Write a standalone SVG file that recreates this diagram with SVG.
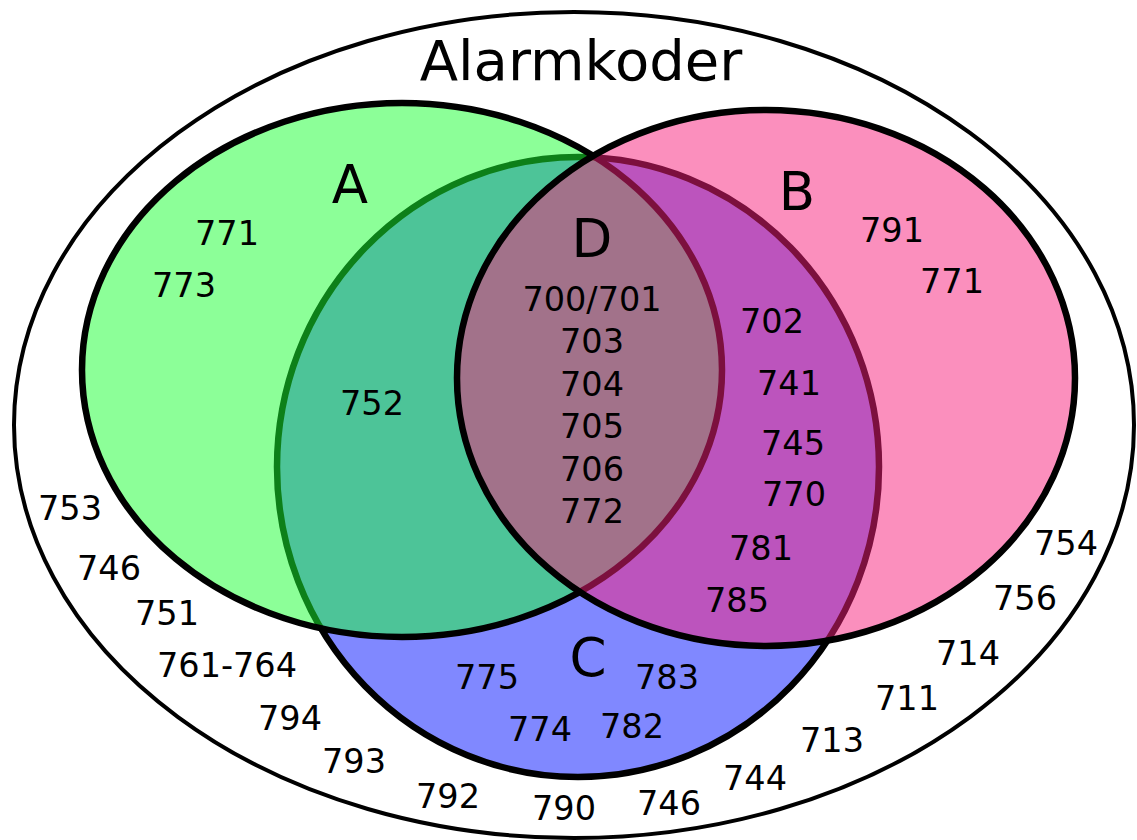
<svg xmlns="http://www.w3.org/2000/svg" width="1137" height="840" viewBox="0 0 1137 840">
  <style>
    .set { stroke: #000; stroke-width: 6.5; }
    .num { font-family: "DejaVu Sans", Verdana, sans-serif; font-size: 33.5px; fill: #000; text-anchor: middle; }
    .letter { font-family: "DejaVu Sans", Verdana, sans-serif; font-size: 53px; fill: #000; text-anchor: middle; }
    .title { font-family: "DejaVu Sans", Verdana, sans-serif; font-size: 56px; fill: #000; text-anchor: middle; }
  </style>
  <rect width="1137" height="840" fill="#fff"/>

  <!-- universe of alarm codes -->
  <g id="universe">
    <ellipse cx="574" cy="425" rx="560" ry="413" fill="#fff" stroke="#000" stroke-width="4"/>
  </g>

  <!-- set C is painted first; A and B are translucent on top of it -->
  <g id="set-C">
    <ellipse class="set" cx="578" cy="467" rx="301" ry="310" fill="#8088ff"/>
  </g>
  <g id="set-A">
    <ellipse class="set" cx="402" cy="370" rx="320" ry="267" fill="#19ff31" fill-opacity="0.5"/>
  </g>
  <g id="set-B">
    <ellipse class="set" cx="766" cy="378" rx="309" ry="268" fill="#f81f7c" fill-opacity="0.5"/>
  </g>

  <g id="title">
    <text class="title" x="581" y="80">Alarmkoder</text>
  </g>

  <g id="labels-A">
    <text class="letter" x="350" y="203">A</text>
    <text class="num" x="227" y="245">771</text>
    <text class="num" x="184" y="297">773</text>
    <text class="num" x="372" y="415">752</text>
  </g>

  <g id="labels-D">
    <text class="letter" x="592" y="257">D</text>
    <text class="num" x="592" y="311">700/701</text>
    <text class="num" x="592" y="353">703</text>
    <text class="num" x="592" y="396">704</text>
    <text class="num" x="592" y="438">705</text>
    <text class="num" x="592" y="481">706</text>
    <text class="num" x="592" y="523">772</text>
  </g>

  <g id="labels-B">
    <text class="letter" x="797" y="210">B</text>
    <text class="num" x="892" y="242">791</text>
    <text class="num" x="952" y="293">771</text>
    <text class="num" x="772" y="333">702</text>
    <text class="num" x="789" y="395">741</text>
    <text class="num" x="793" y="455">745</text>
    <text class="num" x="794" y="506">770</text>
    <text class="num" x="761" y="560">781</text>
    <text class="num" x="737" y="612">785</text>
  </g>

  <g id="labels-C">
    <text class="letter" x="588" y="676">C</text>
    <text class="num" x="487" y="689">775</text>
    <text class="num" x="667" y="689">783</text>
    <text class="num" x="540" y="741">774</text>
    <text class="num" x="632" y="738">782</text>
  </g>

  <g id="labels-outside">
    <text class="num" x="70" y="520">753</text>
    <text class="num" x="109" y="580">746</text>
    <text class="num" x="167" y="625">751</text>
    <text class="num" x="227" y="677">761-764</text>
    <text class="num" x="290" y="730">794</text>
    <text class="num" x="354" y="773">793</text>
    <text class="num" x="448" y="808">792</text>
    <text class="num" x="564" y="820">790</text>
    <text class="num" x="669" y="815">746</text>
    <text class="num" x="755" y="790">744</text>
    <text class="num" x="832" y="752">713</text>
    <text class="num" x="907" y="710">711</text>
    <text class="num" x="968" y="665">714</text>
    <text class="num" x="1025" y="610">756</text>
    <text class="num" x="1066" y="555">754</text>
  </g>
</svg>
